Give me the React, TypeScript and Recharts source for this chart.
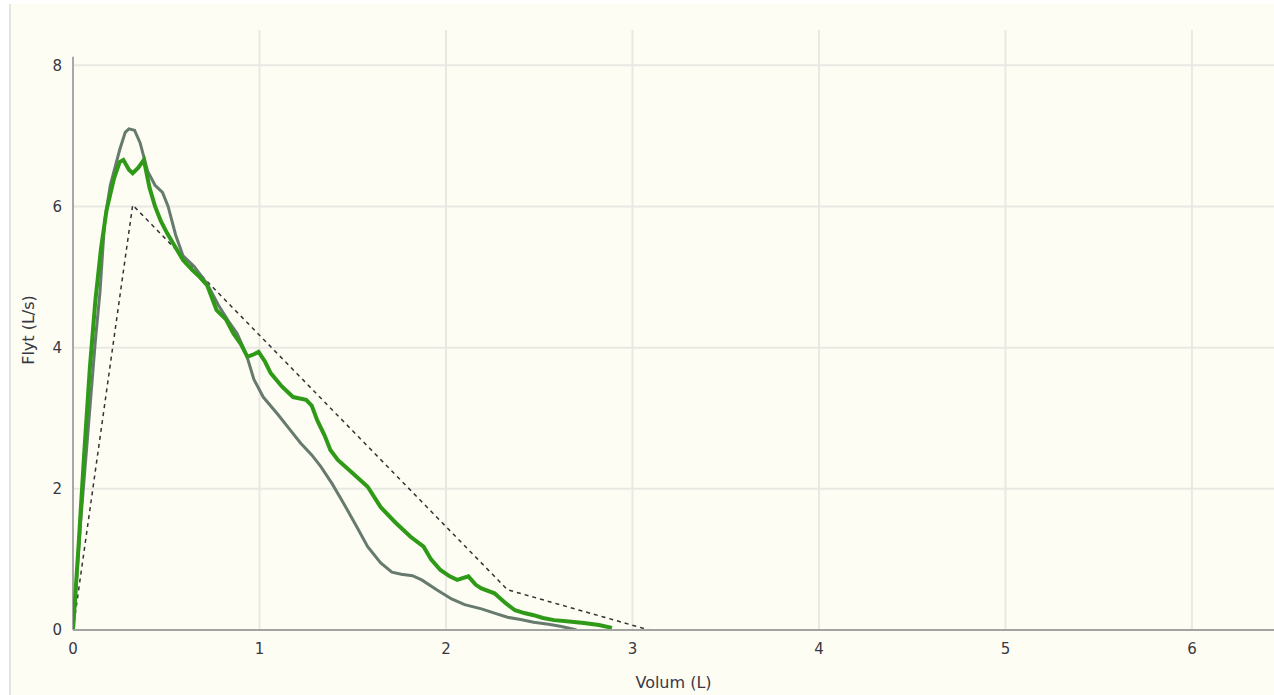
import { Label, Line, LineChart, ReferenceLine, XAxis, YAxis } from "recharts";

// measured curve (grey)
const grayVolume = [0, 0.04, 0.08, 0.12, 0.145, 0.17, 0.2, 0.25, 0.28, 0.3, 0.33, 0.36, 0.4, 0.44, 0.48, 0.51, 0.55, 0.59, 0.65, 0.72, 0.78, 0.84, 0.88, 0.93, 0.97, 1.02, 1.1, 1.16, 1.22, 1.28, 1.33, 1.39, 1.45, 1.52, 1.58, 1.65, 1.71, 1.76, 1.82, 1.87, 1.95, 2.03, 2.1, 2.19, 2.26, 2.33, 2.4, 2.47, 2.55, 2.62, 2.7];
const grayFlow = [0, 1.5, 2.8, 4.1, 4.8, 5.8, 6.3, 6.8, 7.05, 7.1, 7.08, 6.9, 6.5, 6.3, 6.2, 6.0, 5.6, 5.3, 5.15, 4.9, 4.6, 4.35, 4.2, 3.9, 3.55, 3.3, 3.05, 2.85, 2.65, 2.48, 2.31, 2.07, 1.8, 1.47, 1.18, 0.95, 0.82, 0.79, 0.77, 0.71, 0.57, 0.44, 0.36, 0.3, 0.24, 0.18, 0.15, 0.11, 0.08, 0.05, 0];

// best curve (green)
const greenVolume = [0, 0.03, 0.06, 0.09, 0.12, 0.15, 0.18, 0.22, 0.25, 0.27, 0.3, 0.32, 0.35, 0.38, 0.41, 0.44, 0.47, 0.505, 0.55, 0.59, 0.64, 0.68, 0.72, 0.77, 0.82, 0.86, 0.9, 0.935, 0.965, 0.995, 1.03, 1.06, 1.12, 1.18, 1.25, 1.28, 1.31, 1.35, 1.38, 1.42, 1.5, 1.58, 1.65, 1.73, 1.81, 1.88, 1.92, 1.97, 2.02, 2.06, 2.12, 2.16, 2.19, 2.26, 2.32, 2.37, 2.42, 2.47, 2.52, 2.58, 2.66, 2.74, 2.82, 2.89];
const greenFlow = [0, 1.2, 2.5, 3.7, 4.67, 5.4, 5.95, 6.4, 6.63, 6.66, 6.52, 6.47, 6.55, 6.66, 6.27, 6.0, 5.8, 5.62, 5.42, 5.24, 5.1, 5.0, 4.88, 4.53, 4.4, 4.2, 4.05, 3.87, 3.9, 3.94, 3.8, 3.64, 3.45, 3.3, 3.26, 3.18, 2.97, 2.75, 2.55, 2.41, 2.22, 2.03, 1.74, 1.52, 1.32, 1.18, 1.0, 0.85, 0.76, 0.71, 0.76, 0.64, 0.59, 0.52, 0.38, 0.28, 0.24, 0.21, 0.17, 0.14, 0.12, 0.1, 0.07, 0.03];

// predicted (dashed)
const predVolume = [0, 0.32, 2.33, 3.09];
const predFlow = [0, 6.02, 0.57, 0];

const xTicks = [0, 1, 2, 3, 4, 5, 6];
const yTicks = [0, 2, 4, 6, 8];

const toPoints = (vs: number[], fs: number[]) => vs.map((v, i) => ({ x: v, y: fs[i] }));

const grayData = toPoints(grayVolume, grayFlow);
const greenData = toPoints(greenVolume, greenFlow);
const predData = toPoints(predVolume, predFlow);

const font = "'DejaVu Sans', Verdana, sans-serif";
const tick = { fontSize: 15, fill: "#383844", fontFamily: font };
const gridColor = "#e9e9e3";

export default function App() {
  return (
    <div style={{ position: "relative", width: 1274, height: 695, background: "#ffffff", overflow: "hidden" }}>
      <style>{`body{margin:0}`}</style>
      <div style={{ position: "absolute", left: 9, top: 4, width: 2, height: 691, background: "#e4e4e4" }} />
      <div style={{ position: "absolute", left: 11, top: 4, width: 1263, height: 691, background: "#fdfdf4" }}>
        <LineChart width={1263} height={691} margin={{ top: 26, right: 0, bottom: 0, left: 0 }}>
          <XAxis
            type="number"
            dataKey="x"
            domain={[0, 6.44]}
            ticks={xTicks}
            allowDataOverflow
            height={65}
            tick={tick}
            tickLine={false}
            tickMargin={7}
            axisLine={{ stroke: "#a3a3a3", strokeWidth: 2 }}
          >
            <Label value="Volum (L)" position="insideBottom" offset={7} style={{ fontSize: 16, fill: "#383844", fontFamily: font }} />
          </XAxis>
          <YAxis
            type="number"
            dataKey="y"
            domain={[0, 8.5]}
            ticks={yTicks}
            allowDataOverflow
            width={62}
            tick={tick}
            tickLine={false}
            tickMargin={5}
            axisLine={false}
          >
            <Label value="Flyt (L/s)" angle={-90} position="insideLeft" offset={17} style={{ fontSize: 16, fill: "#383844", fontFamily: font, textAnchor: "middle" }} />
          </YAxis>
          {xTicks.slice(1).map((v) => (
            <ReferenceLine key={`vx${v}`} x={v} stroke={gridColor} strokeWidth={2} />
          ))}
          {yTicks.slice(1).map((v) => (
            <ReferenceLine key={`hy${v}`} y={v} stroke={gridColor} strokeWidth={2} />
          ))}
          <ReferenceLine segment={[{ x: 0, y: 0 }, { x: 0, y: 8.12 }]} stroke="#a8a8a8" strokeWidth={2} />
          <Line data={predData} dataKey="y" type="linear" stroke="#333333" strokeWidth={1.5} strokeDasharray="4 4" dot={false} isAnimationActive={false} />
          <Line data={grayData} dataKey="y" type="linear" stroke="#667a6e" strokeWidth={3} dot={false} isAnimationActive={false} />
          <Line data={greenData} dataKey="y" type="linear" stroke="#2f9a17" strokeWidth={4} dot={false} isAnimationActive={false} />
        </LineChart>
      </div>
    </div>
  );
}
